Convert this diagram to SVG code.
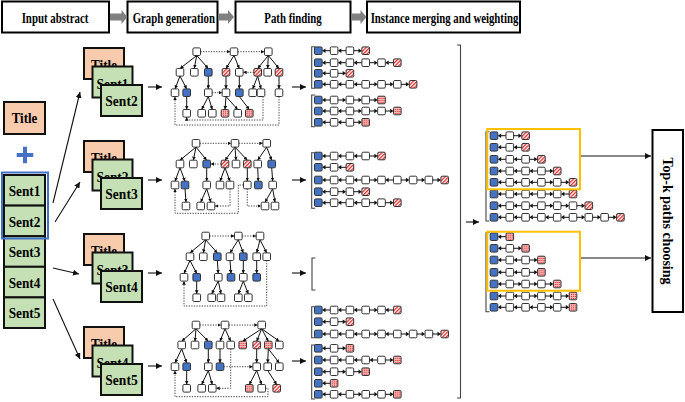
<svg xmlns="http://www.w3.org/2000/svg" xmlns:xlink="http://www.w3.org/1999/xlink" width="685" height="402" viewBox="0 0 685 402">
<style>
.hb{fill:#fff;stroke:#000;stroke-width:2}
.ht{font-family:"Liberation Serif","Times New Roman",serif;font-weight:bold;font-size:15px;text-anchor:middle;fill:#000}
.t{fill:#f8cbad;stroke:#111;stroke-width:2}
.s{fill:#c5e0b4;stroke:#111;stroke-width:2}
.e line{stroke:#111;stroke-width:1;marker-end:url(#m)}
.d path{stroke:#333;stroke-width:0.9;stroke-dasharray:1.3 1.3;fill:none;marker-end:url(#m)}
.big line{stroke:#111;stroke-width:1.1;marker-end:url(#M)}
.br{stroke:#444;stroke-width:1.1;fill:none}
.ob{fill:none;stroke:#ffc000;stroke-width:2}
.n{stroke:#333;stroke-width:1}
.al{stroke:#111;stroke-width:1;fill:none}
</style>
<defs>
<marker id="m" viewBox="0 0 6 6" refX="6" refY="3" markerWidth="3.6" markerHeight="3.6" markerUnits="userSpaceOnUse" orient="auto"><path d="M0,0L6,3L0,6Z" fill="#111"/></marker>
<marker id="M" viewBox="0 0 6 6" refX="6" refY="3" markerWidth="6" markerHeight="6" markerUnits="userSpaceOnUse" orient="auto"><path d="M0,0L6,3L0,6Z" fill="#111"/></marker>
<pattern id="ph" width="2.6" height="2.6" patternUnits="userSpaceOnUse" patternTransform="rotate(45)"><rect width="2.6" height="2.6" fill="#fff"/><rect width="1.3" height="2.6" fill="#e53030"/></pattern>
<pattern id="pd" width="2" height="2" patternUnits="userSpaceOnUse"><rect width="2" height="2" fill="#f6b4b4"/><rect width="1" height="1" fill="#e03030"/></pattern>
<rect id="nw" class="n" x="-3.8" y="-3.8" width="7.6" height="7.6" rx="1.2" fill="#fff"/>
<rect id="nb" class="n" x="-3.8" y="-3.8" width="7.6" height="7.6" rx="1.2" fill="#4472c4"/>
<rect id="nh" class="n" x="-3.8" y="-3.8" width="7.6" height="7.6" rx="1.2" fill="url(#ph)"/>
<rect id="nd" class="n" x="-3.8" y="-3.8" width="7.6" height="7.6" rx="1.2" fill="url(#pd)"/>
<g id="aL"><path class="al" d="M-3.8,0H-9"/><path d="M-12,0L-8.6,-2.3V2.3Z" fill="#111"/></g>
<g id="aR"><path class="al" d="M-12,0H-6.8"/><path d="M-3.8,0L-7.2,-2.3V2.3Z" fill="#111"/></g>
<g id="wL"><use href="#aL"/><use href="#nw"/></g>
<g id="wR"><use href="#aR"/><use href="#nw"/></g>
<g id="hL"><use href="#aL"/><use href="#nh"/></g>
<g id="hR"><use href="#aR"/><use href="#nh"/></g>
<g id="dL"><use href="#aL"/><use href="#nd"/></g>
<g id="dR"><use href="#aR"/><use href="#nd"/></g>
</defs>

<!-- headers -->
<g id="header-input"><rect class="hb" x="2" y="1.5" width="107" height="31"/><text class="ht" x="55" y="22.5" textLength="66.7" lengthAdjust="spacingAndGlyphs">Input abstract</text></g>
<g id="header-graph"><rect class="hb" x="127.5" y="1.5" width="90" height="31"/><text class="ht" x="173.8" y="22.5" textLength="82.3" lengthAdjust="spacingAndGlyphs">Graph generation</text></g>
<g id="header-path"><rect class="hb" x="235.5" y="1.5" width="115" height="31"/><text class="ht" x="293" y="22.5" textLength="57.3" lengthAdjust="spacingAndGlyphs">Path finding</text></g>
<g id="header-merge"><rect class="hb" x="367" y="1.5" width="153" height="31"/><text class="ht" x="444.5" y="22.5" textLength="147.7" lengthAdjust="spacingAndGlyphs">Instance merging and weighting</text></g>
<g id="header-arrows" fill="#808080">
<polygon points="110,13.5 121.5,13.5 121.5,10 127.5,17 121.5,24 121.5,20.5 110,20.5"/>
<polygon points="218.5,13.5 228,13.5 228,10 234,17 228,24 228,20.5 218.5,20.5"/>
<polygon points="351,13.5 360.5,13.5 360.5,10 366.5,17 360.5,24 360.5,20.5 351,20.5"/>
</g>

<!-- input column -->
<g id="title-main"><rect class="t" x="4" y="102" width="41" height="32"/><text class="ht" x="24.5" y="123" textLength="25.7" lengthAdjust="spacingAndGlyphs">Title</text></g>
<g id="plus"><path d="M25,146.7V163.3M16.7,155H33.3" stroke="#4472c4" stroke-width="4"/></g>
<g id="sent1"><rect class="s" x="4" y="175" width="41" height="30.6"/><text class="ht" x="24.5" y="196" textLength="31.7" lengthAdjust="spacingAndGlyphs">Sent1</text></g>
<g id="sent2"><rect class="s" x="4" y="205.6" width="41" height="30.6"/><text class="ht" x="24.5" y="226.6" textLength="31.7" lengthAdjust="spacingAndGlyphs">Sent2</text></g>
<g id="sent3"><rect class="s" x="4" y="236.2" width="41" height="30.6"/><text class="ht" x="24.5" y="257.2" textLength="31.7" lengthAdjust="spacingAndGlyphs">Sent3</text></g>
<g id="sent4"><rect class="s" x="4" y="266.8" width="41" height="30.6"/><text class="ht" x="24.5" y="287.8" textLength="31.7" lengthAdjust="spacingAndGlyphs">Sent4</text></g>
<g id="sent5"><rect class="s" x="4" y="297.4" width="41" height="30.6"/><text class="ht" x="24.5" y="318.4" textLength="31.7" lengthAdjust="spacingAndGlyphs">Sent5</text></g>
<rect id="window" x="2" y="172.5" width="46" height="66" fill="none" stroke="#4472c4" stroke-width="2"/>

<!-- stacked instances -->
<g id="inst1">
<rect class="t" x="84" y="48" width="40" height="31"/><text class="ht" x="104" y="69.5" textLength="26" lengthAdjust="spacingAndGlyphs">Title</text>
<rect class="s" x="92.5" y="66.5" width="40" height="31"/><text class="ht" x="112.5" y="88.5" textLength="32" lengthAdjust="spacingAndGlyphs">Sent1</text>
<rect class="s" x="101" y="85" width="41" height="31"/><text class="ht" x="121.5" y="106" textLength="32.3" lengthAdjust="spacingAndGlyphs">Sent2</text>
</g>
<g id="inst2" transform="translate(0,93)">
<rect class="t" x="84" y="48" width="40" height="31"/><text class="ht" x="104" y="69.5" textLength="26" lengthAdjust="spacingAndGlyphs">Title</text>
<rect class="s" x="92.5" y="66.5" width="40" height="31"/><text class="ht" x="112.5" y="88.5" textLength="32" lengthAdjust="spacingAndGlyphs">Sent2</text>
<rect class="s" x="101" y="85" width="41" height="31"/><text class="ht" x="121.5" y="106" textLength="32.3" lengthAdjust="spacingAndGlyphs">Sent3</text>
</g>
<g id="inst3" transform="translate(0,186)">
<rect class="t" x="84" y="48" width="40" height="31"/><text class="ht" x="104" y="69.5" textLength="26" lengthAdjust="spacingAndGlyphs">Title</text>
<rect class="s" x="92.5" y="66.5" width="40" height="31"/><text class="ht" x="112.5" y="88.5" textLength="32" lengthAdjust="spacingAndGlyphs">Sent3</text>
<rect class="s" x="101" y="85" width="41" height="31"/><text class="ht" x="121.5" y="106" textLength="32.3" lengthAdjust="spacingAndGlyphs">Sent4</text>
</g>
<g id="inst4" transform="translate(0,279)">
<rect class="t" x="84" y="48" width="40" height="31"/><text class="ht" x="104" y="69.5" textLength="26" lengthAdjust="spacingAndGlyphs">Title</text>
<rect class="s" x="92.5" y="66.5" width="40" height="31"/><text class="ht" x="112.5" y="88.5" textLength="32" lengthAdjust="spacingAndGlyphs">Sent4</text>
<rect class="s" x="101" y="85" width="41" height="31"/><text class="ht" x="121.5" y="106" textLength="32.3" lengthAdjust="spacingAndGlyphs">Sent5</text>
</g>

<!-- connectors -->
<g id="connectors">
<g class="big">
<line x1="53" y1="203" x2="80" y2="92"/>
<line x1="55" y1="222" x2="80" y2="182"/>
<line x1="53" y1="268" x2="79" y2="274"/>
<line x1="53" y1="299" x2="80" y2="359"/>
<line x1="148" y1="87" x2="162" y2="87"/>
<line x1="148" y1="180" x2="162" y2="180"/>
<line x1="148" y1="273" x2="162" y2="273"/>
<line x1="148" y1="366" x2="162" y2="366"/>
<line x1="292" y1="87" x2="306" y2="87"/>
<line x1="292" y1="180" x2="306" y2="180"/>
<line x1="292" y1="273" x2="306" y2="273"/>
<line x1="292" y1="361" x2="306" y2="361"/>
<line x1="466" y1="222" x2="479" y2="222"/>
<line x1="580" y1="156" x2="651" y2="156"/>
<line x1="580" y1="258" x2="651" y2="258"/>
</g>
</g>

<!-- graph 1 -->
<g id="graph1">
<g class="e">
<line x1="196.7" y1="55.5" x2="180" y2="68.5"/><line x1="196.7" y1="55.5" x2="194.3" y2="68.5"/><line x1="196.7" y1="55.5" x2="208.3" y2="68.5"/>
<line x1="180" y1="76.1" x2="175" y2="88.9"/><line x1="180" y1="76.1" x2="186.7" y2="88.9"/>
<line x1="186.7" y1="96.5" x2="186.7" y2="109.5"/>
<line x1="208.3" y1="76.1" x2="208.3" y2="88.9"/>
<line x1="208.3" y1="96.5" x2="201.7" y2="109.5"/><line x1="208.3" y1="96.5" x2="212.3" y2="109.5"/>
<line x1="234" y1="55.5" x2="226" y2="68.5"/><line x1="234" y1="55.5" x2="239.3" y2="68.5"/>
<line x1="226" y1="76.1" x2="226" y2="88.9"/>
<line x1="226" y1="96.5" x2="225" y2="109.5"/><line x1="226" y1="96.5" x2="237.7" y2="109.5"/>
<line x1="239.3" y1="76.1" x2="239.3" y2="88.9"/>
<line x1="239.3" y1="96.5" x2="249.3" y2="109.5"/>
<line x1="268.3" y1="55.5" x2="257.7" y2="68.5"/><line x1="268.3" y1="55.5" x2="267.7" y2="68.5"/><line x1="268.3" y1="55.5" x2="279" y2="68.5"/>
<line x1="257.7" y1="76.1" x2="252.7" y2="88.9"/><line x1="257.7" y1="76.1" x2="261" y2="88.9"/>
<line x1="279" y1="76.1" x2="279" y2="88.9"/>
</g>
<g class="d">
<path d="M200.5,51.7H230.2"/><path d="M237.8,51.7H264.5"/><path d="M253.9,72.3H243.1"/><path d="M212.1,92.7H222.2"/>
<path d="M279,96.5V125H175V96.5"/><path d="M263,96.5V120H186.7V117.1"/>
</g>
<use href="#nw" x="196.7" y="51.7"/><use href="#nw" x="234" y="51.7"/><use href="#nw" x="268.3" y="51.7"/>
<use href="#nw" x="180" y="72.3"/><use href="#nw" x="194.3" y="72.3"/><use href="#nb" x="208.3" y="72.3"/><use href="#nh" x="226" y="72.3"/><use href="#nw" x="239.3" y="72.3"/><use href="#nh" x="257.7" y="72.3"/><use href="#nw" x="267.7" y="72.3"/><use href="#nh" x="279" y="72.3"/>
<use href="#nw" x="175" y="92.7"/><use href="#nb" x="186.7" y="92.7"/><use href="#nw" x="208.3" y="92.7"/><use href="#nw" x="226" y="92.7"/><use href="#nb" x="239.3" y="92.7"/><use href="#nw" x="252.7" y="92.7"/><use href="#nw" x="261" y="92.7"/><use href="#nw" x="279" y="92.7"/>
<use href="#nw" x="186.7" y="113.3"/><use href="#nw" x="201.7" y="113.3"/><use href="#nw" x="212.3" y="113.3"/><use href="#nd" x="225" y="113.3"/><use href="#nw" x="237.7" y="113.3"/><use href="#nd" x="249.3" y="113.3"/>
</g>

<!-- graph 2 -->
<g id="graph2">
<g class="e">
<line x1="196" y1="147.1" x2="180" y2="160.2"/><line x1="196" y1="147.1" x2="193.3" y2="160.2"/><line x1="196" y1="147.1" x2="206.7" y2="160.2"/>
<line x1="180" y1="167.8" x2="175" y2="181.2"/><line x1="180" y1="167.8" x2="185" y2="181.2"/>
<line x1="185" y1="188.8" x2="186" y2="202.2"/>
<line x1="206.7" y1="167.8" x2="206.7" y2="181.2"/>
<line x1="206.7" y1="188.8" x2="200.7" y2="202.2"/><line x1="206.7" y1="188.8" x2="211" y2="202.2"/>
<line x1="235" y1="147.1" x2="225" y2="160.2"/><line x1="235" y1="147.1" x2="236" y2="160.2"/><line x1="235" y1="147.1" x2="247.3" y2="160.2"/>
<line x1="225" y1="167.8" x2="220" y2="181.2"/><line x1="225" y1="167.8" x2="230" y2="181.2"/>
<line x1="247.3" y1="167.8" x2="247.3" y2="181.2"/>
<line x1="266.7" y1="147.1" x2="257.7" y2="160.2"/><line x1="266.7" y1="147.1" x2="271.7" y2="160.2"/>
<line x1="257.7" y1="167.8" x2="258.3" y2="181.2"/>
<line x1="271.7" y1="167.8" x2="272.7" y2="181.2"/>
<line x1="272.7" y1="188.8" x2="265" y2="202.2"/><line x1="272.7" y1="188.8" x2="275" y2="202.2"/>
</g>
<g class="d">
<path d="M199.8,143.3H231.2"/><path d="M238.8,143.3H262.9"/><path d="M221.2,164H210.5"/>
<path d="M230,188.8V206H214.8"/><path d="M243.5,185H238.3V213.3H175V188.8"/><path d="M247.3,188.8V206H261.2"/>
</g>
<use href="#nw" x="196" y="143.3"/><use href="#nw" x="235" y="143.3"/><use href="#nw" x="266.7" y="143.3"/>
<use href="#nw" x="180" y="164"/><use href="#nw" x="193.3" y="164"/><use href="#nb" x="206.7" y="164"/><use href="#nh" x="225" y="164"/><use href="#nw" x="236" y="164"/><use href="#nh" x="247.3" y="164"/><use href="#nw" x="257.7" y="164"/><use href="#nb" x="271.7" y="164"/>
<use href="#nw" x="175" y="185"/><use href="#nb" x="185" y="185"/><use href="#nw" x="206.7" y="185"/><use href="#nw" x="220" y="185"/><use href="#nw" x="230" y="185"/><use href="#nw" x="247.3" y="185"/><use href="#nb" x="258.3" y="185"/><use href="#nw" x="272.7" y="185"/>
<use href="#nw" x="186" y="206"/><use href="#nw" x="200.7" y="206"/><use href="#nw" x="211" y="206"/><use href="#nw" x="265" y="206"/><use href="#nw" x="275" y="206"/>
</g>

<!-- graph 3 -->
<g id="graph3">
<g class="e">
<line x1="205.7" y1="239.8" x2="190" y2="252.9"/><line x1="205.7" y1="239.8" x2="203.3" y2="252.9"/><line x1="205.7" y1="239.8" x2="217.3" y2="252.9"/>
<line x1="190" y1="260.5" x2="184" y2="273.5"/><line x1="190" y1="260.5" x2="196.7" y2="273.5"/>
<line x1="196.7" y1="281.1" x2="196.7" y2="293.9"/>
<line x1="217.3" y1="260.5" x2="218.3" y2="273.5"/>
<line x1="218.3" y1="281.1" x2="211.7" y2="293.9"/><line x1="218.3" y1="281.1" x2="221" y2="293.9"/>
<line x1="238.3" y1="239.8" x2="230" y2="252.9"/><line x1="238.3" y1="239.8" x2="243.3" y2="252.9"/>
<line x1="230" y1="260.5" x2="231" y2="273.5"/>
<line x1="243.3" y1="260.5" x2="243.3" y2="273.5"/>
<line x1="243.3" y1="281.1" x2="238.3" y2="293.9"/><line x1="243.3" y1="281.1" x2="248.3" y2="293.9"/>
<line x1="260" y1="239.8" x2="256.7" y2="252.9"/><line x1="260" y1="239.8" x2="266.7" y2="252.9"/>
<line x1="256.7" y1="260.5" x2="256.7" y2="273.5"/>
</g>
<g class="d">
<path d="M209.5,236H234.5"/><path d="M242.1,236H256.2"/><path d="M266.7,260.5V306H184V281.1"/>
</g>
<use href="#nw" x="205.7" y="236"/><use href="#nw" x="238.3" y="236"/><use href="#nw" x="260" y="236"/>
<use href="#nw" x="190" y="256.7"/><use href="#nw" x="203.3" y="256.7"/><use href="#nb" x="217.3" y="256.7"/><use href="#nw" x="230" y="256.7"/><use href="#nb" x="243.3" y="256.7"/><use href="#nw" x="256.7" y="256.7"/><use href="#nw" x="266.7" y="256.7"/>
<use href="#nw" x="184" y="277.3"/><use href="#nb" x="196.7" y="277.3"/><use href="#nw" x="218.3" y="277.3"/><use href="#nb" x="231" y="277.3"/><use href="#nw" x="243.3" y="277.3"/><use href="#nb" x="256.7" y="277.3"/>
<use href="#nw" x="196.7" y="297.7"/><use href="#nw" x="211.7" y="297.7"/><use href="#nw" x="221" y="297.7"/><use href="#nw" x="238.3" y="297.7"/><use href="#nw" x="248.3" y="297.7"/>
</g>

<!-- graph 4 -->
<g id="graph4">
<g class="e">
<line x1="196" y1="328.8" x2="181.7" y2="341.2"/><line x1="196" y1="328.8" x2="195" y2="341.2"/><line x1="196" y1="328.8" x2="208.3" y2="341.2"/>
<line x1="181.7" y1="348.8" x2="175" y2="362.9"/><line x1="181.7" y1="348.8" x2="186.7" y2="362.9"/>
<line x1="186.7" y1="370.5" x2="186.7" y2="384.5"/>
<line x1="208.3" y1="348.8" x2="208.3" y2="362.9"/>
<line x1="208.3" y1="370.5" x2="201.7" y2="384.5"/><line x1="208.3" y1="370.5" x2="212.3" y2="384.5"/>
<line x1="225" y1="328.8" x2="220" y2="341.2"/><line x1="225" y1="328.8" x2="230.7" y2="341.2"/>
<line x1="220" y1="348.8" x2="220" y2="362.9"/>
<line x1="261.7" y1="328.8" x2="242.7" y2="341.2"/><line x1="261.7" y1="328.8" x2="256.7" y2="341.2"/><line x1="261.7" y1="328.8" x2="268.3" y2="341.2"/><line x1="261.7" y1="328.8" x2="279.3" y2="341.2"/>
<line x1="256.7" y1="348.8" x2="256.7" y2="362.9"/>
<line x1="256.7" y1="370.5" x2="249.3" y2="384.5"/><line x1="256.7" y1="370.5" x2="261.7" y2="384.5"/>
<line x1="268.3" y1="348.8" x2="267.7" y2="362.9"/><line x1="268.3" y1="348.8" x2="279.3" y2="362.9"/>
<line x1="267.7" y1="370.5" x2="276.7" y2="384.5"/>
</g>
<g class="d">
<path d="M199.8,325H221.2"/><path d="M228.8,325H257.9"/><path d="M223.8,366.7H252.9"/>
<path d="M230.7,348.8V388.3H216.1"/><path d="M265.5,388.3H268V396.7H175V370.5"/>
</g>
<use href="#nw" x="196" y="325"/><use href="#nw" x="225" y="325"/><use href="#nw" x="261.7" y="325"/>
<use href="#nw" x="181.7" y="345"/><use href="#nw" x="195" y="345"/><use href="#nb" x="208.3" y="345"/><use href="#nw" x="220" y="345"/><use href="#nw" x="230.7" y="345"/><use href="#nd" x="242.7" y="345"/><use href="#nh" x="256.7" y="345"/><use href="#nd" x="268.3" y="345"/><use href="#nw" x="279.3" y="345"/>
<use href="#nw" x="175" y="366.7"/><use href="#nb" x="186.7" y="366.7"/><use href="#nw" x="208.3" y="366.7"/><use href="#nb" x="220" y="366.7"/><use href="#nw" x="256.7" y="366.7"/><use href="#nw" x="267.7" y="366.7"/><use href="#nw" x="279.3" y="366.7"/>
<use href="#nw" x="186.7" y="388.3"/><use href="#nw" x="201.7" y="388.3"/><use href="#nw" x="212.3" y="388.3"/><use href="#nd" x="249.3" y="388.3"/><use href="#nw" x="261.7" y="388.3"/><use href="#nh" x="276.7" y="388.3"/>
</g>

<!-- path lists -->
<g id="paths1">
<path class="br" d="M315.2,46.7H311.7V88.3H315.2M315.2,95H311.7V126.7H315.2"/>
<g transform="translate(318.3,50.7)"><use href="#nb"/><use href="#wL" x="15.8"/><use href="#wL" x="31.6"/><use href="#hR" x="47.4"/></g>
<g transform="translate(318.3,62.7)"><use href="#nb"/><use href="#wL" x="15.8"/><use href="#wL" x="31.6"/><use href="#wL" x="47.4"/><use href="#wR" x="63.2"/><use href="#hL" x="79"/></g>
<g transform="translate(318.3,73.3)"><use href="#nb"/><use href="#wL" x="15.8"/><use href="#hR" x="31.6"/></g>
<g transform="translate(318.3,84.3)"><use href="#nb"/><use href="#wL" x="15.8"/><use href="#wL" x="31.6"/><use href="#wL" x="47.4"/><use href="#wR" x="63.2"/><use href="#wR" x="79"/><use href="#hR" x="94.8"/></g>
<g transform="translate(318.3,100)"><use href="#nb"/><use href="#wL" x="15.8"/><use href="#wR" x="31.6"/><use href="#wR" x="47.4"/><use href="#dR" x="63.2"/></g>
<g transform="translate(318.3,111)"><use href="#nb"/><use href="#wL" x="15.8"/><use href="#wL" x="31.6"/><use href="#wR" x="47.4"/><use href="#wR" x="63.2"/><use href="#dR" x="79"/></g>
<g transform="translate(318.3,122.3)"><use href="#nb"/><use href="#wL" x="15.8"/><use href="#wL" x="31.6"/><use href="#dR" x="47.4"/></g>
</g>
<g id="paths2">
<path class="br" d="M315.2,152.7H311.7V208.3H315.2"/>
<g transform="translate(318.3,156)"><use href="#nb"/><use href="#wL" x="15.8"/><use href="#wL" x="31.6"/><use href="#wL" x="47.4"/><use href="#hR" x="63.2"/></g>
<g transform="translate(318.3,167.3)"><use href="#nb"/><use href="#wL" x="15.8"/><use href="#hL" x="31.6"/></g>
<g transform="translate(318.3,180)"><use href="#nb"/><use href="#wL" x="15.8"/><use href="#wL" x="31.6"/><use href="#wL" x="47.4"/><use href="#wR" x="63.2"/><use href="#wL" x="79"/><use href="#wR" x="94.8"/><use href="#wR" x="110.6"/><use href="#hR" x="126.4"/></g>
<g transform="translate(318.3,191.7)"><use href="#nb"/><use href="#wL" x="15.8"/><use href="#wR" x="31.6"/><use href="#hR" x="47.4"/></g>
<g transform="translate(318.3,202.7)"><use href="#nb"/><use href="#wL" x="15.8"/><use href="#wL" x="31.6"/><use href="#wL" x="47.4"/><use href="#wR" x="63.2"/><use href="#hR" x="79"/></g>
</g>
<g id="paths3">
<path class="br" d="M315.5,258H312V290H315.5"/>
</g>
<g id="paths4">
<path class="br" d="M315.2,306.7H311.7V337.7H315.2M315.2,345H311.7V399H315.2"/>
<g transform="translate(318.3,310)"><use href="#nb"/><use href="#wL" x="15.8"/><use href="#wL" x="31.6"/><use href="#wL" x="47.4"/><use href="#wR" x="63.2"/><use href="#hL" x="79"/></g>
<g transform="translate(318.3,321.7)"><use href="#nb"/><use href="#wL" x="15.8"/><use href="#hR" x="31.6"/></g>
<g transform="translate(318.3,334)"><use href="#nb"/><use href="#wL" x="15.8"/><use href="#wL" x="31.6"/><use href="#wL" x="47.4"/><use href="#wR" x="63.2"/><use href="#wL" x="79"/><use href="#wR" x="94.8"/><use href="#wR" x="110.6"/><use href="#hR" x="126.4"/></g>
<g transform="translate(318.3,348.3)"><use href="#nb"/><use href="#wL" x="15.8"/><use href="#dR" x="31.6"/></g>
<g transform="translate(318.3,360)"><use href="#nb"/><use href="#wL" x="15.8"/><use href="#wL" x="31.6"/><use href="#wL" x="47.4"/><use href="#wL" x="63.2"/><use href="#dR" x="79"/></g>
<g transform="translate(318.3,371.7)"><use href="#nb"/><use href="#wL" x="15.8"/><use href="#wR" x="31.6"/><use href="#dR" x="47.4"/></g>
<g transform="translate(318.3,383.3)"><use href="#nb"/><use href="#dL" x="15.8"/></g>
<g transform="translate(318.3,394.3)"><use href="#nb"/><use href="#wL" x="15.8"/><use href="#wL" x="31.6"/><use href="#wR" x="47.4"/><use href="#wR" x="63.2"/><use href="#dR" x="79"/></g>
</g>
<path id="all-paths-bracket" class="br" d="M457,45H460.5V398H457" stroke-width="1.4"/>

<!-- merged -->
<g id="merged-a">
<path class="br" d="M489.5,131.7H486V221H489.5"/>
<g transform="translate(494,135.7)"><use href="#nb"/><use href="#wL" x="15.8"/><use href="#hR" x="31.6"/></g>
<g transform="translate(494,147.3)"><use href="#nb"/><use href="#wL" x="15.8"/><use href="#hL" x="31.6"/></g>
<g transform="translate(494,159.3)"><use href="#nb"/><use href="#wL" x="15.8"/><use href="#wL" x="31.6"/><use href="#hR" x="47.4"/></g>
<g transform="translate(494,171)"><use href="#nb"/><use href="#wL" x="15.8"/><use href="#wL" x="31.6"/><use href="#wL" x="47.4"/><use href="#hR" x="63.2"/></g>
<g transform="translate(494,182.3)"><use href="#nb"/><use href="#wL" x="15.8"/><use href="#wL" x="31.6"/><use href="#wL" x="47.4"/><use href="#wR" x="63.2"/><use href="#hR" x="79"/></g>
<g transform="translate(494,194)"><use href="#nb"/><use href="#wL" x="15.8"/><use href="#wL" x="31.6"/><use href="#wL" x="47.4"/><use href="#wR" x="63.2"/><use href="#hL" x="79"/></g>
<g transform="translate(494,205.7)"><use href="#nb"/><use href="#wL" x="15.8"/><use href="#wL" x="31.6"/><use href="#wL" x="47.4"/><use href="#wR" x="63.2"/><use href="#wR" x="79"/><use href="#hR" x="94.8"/></g>
<g transform="translate(494,217.3)"><use href="#nb"/><use href="#wL" x="15.8"/><use href="#wL" x="31.6"/><use href="#wL" x="47.4"/><use href="#wL" x="63.2"/><use href="#wL" x="79"/><use href="#wR" x="94.8"/><use href="#wR" x="110.6"/><use href="#hR" x="126.4"/></g>
<rect class="ob" x="487.3" y="129" width="92.7" height="60.3"/>
</g>
<g id="merged-b">
<path class="br" d="M489.5,232.7H486V311.7H489.5"/>
<g transform="translate(494,236.7)"><use href="#nb"/><use href="#dL" x="15.8"/></g>
<g transform="translate(494,248.3)"><use href="#nb"/><use href="#wL" x="15.8"/><use href="#dR" x="31.6"/></g>
<g transform="translate(494,260)"><use href="#nb"/><use href="#wL" x="15.8"/><use href="#wL" x="31.6"/><use href="#dR" x="47.4"/></g>
<g transform="translate(494,272.3)"><use href="#nb"/><use href="#wL" x="15.8"/><use href="#wL" x="31.6"/><use href="#dR" x="47.4"/></g>
<g transform="translate(494,284)"><use href="#nb"/><use href="#wL" x="15.8"/><use href="#wR" x="31.6"/><use href="#wR" x="47.4"/><use href="#dR" x="63.2"/></g>
<g transform="translate(494,296)"><use href="#nb"/><use href="#wL" x="15.8"/><use href="#wL" x="31.6"/><use href="#wR" x="47.4"/><use href="#wR" x="63.2"/><use href="#dR" x="79"/></g>
<g transform="translate(494,307.3)"><use href="#nb"/><use href="#wL" x="15.8"/><use href="#wL" x="31.6"/><use href="#wL" x="47.4"/><use href="#wR" x="63.2"/><use href="#dR" x="79"/></g>
<rect class="ob" x="487.3" y="231.7" width="92.7" height="59"/>
</g>

<g id="topk"><rect class="hb" x="652.5" y="130" width="30.5" height="182"/><text class="ht" transform="translate(663,221) rotate(90)" textLength="127" lengthAdjust="spacingAndGlyphs">Top-k paths choosing</text></g>
</svg>
